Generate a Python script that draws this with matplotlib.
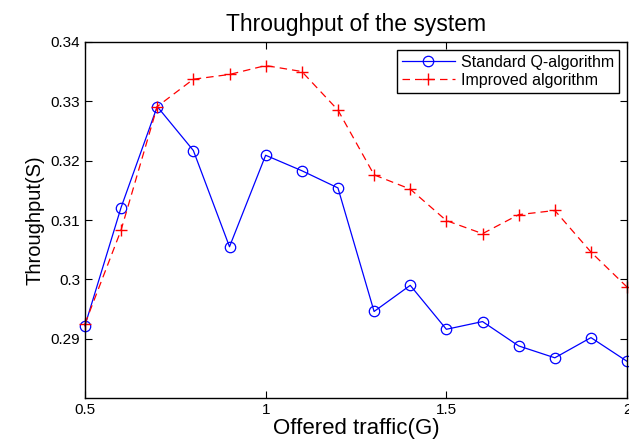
import matplotlib
matplotlib.use('Agg')
import matplotlib.pyplot as plt
import numpy as np

plt.rcParams['font.family'] = ['Liberation Sans', 'DejaVu Sans']

# offered traffic G
traffic = [0.5, 0.6, 0.7, 0.8, 0.9, 1.0, 1.1, 1.2, 1.3, 1.4, 1.5, 1.6, 1.7, 1.8, 1.9, 2.0]
standard_q = [0.2922, 0.3121, 0.3291, 0.3217, 0.3055, 0.3209, 0.3183, 0.3154,
              0.2946, 0.2990, 0.2916, 0.2929, 0.2888, 0.2868, 0.2902, 0.2862]
improved = [0.2925, 0.3083, 0.3291, 0.3337, 0.3345, 0.3360, 0.3350, 0.3285,
            0.3176, 0.3152, 0.3099, 0.3077, 0.3109, 0.3116, 0.3046, 0.2987]

x_ticks = [0.5, 1, 1.5, 2]
x_tick_labels = ['0.5', '1', '1.5', '2']
y_ticks = [0.29, 0.30, 0.31, 0.32, 0.33, 0.34]
y_tick_labels = ['0.29', '0.3', '0.31', '0.32', '0.33', '0.34']

fig = plt.figure(figsize=(6.29, 4.40), dpi=100)
ax = fig.add_axes([0.135, 0.095, 0.862, 0.81])

ax.plot(traffic, standard_q, color='#0000ff', linestyle='-', linewidth=0.9,
        marker='o', markersize=7.5, markerfacecolor='none', markeredgecolor='#0000ff',
        markeredgewidth=0.9, label='Standard Q-algorithm', clip_on=False)
ax.plot(traffic, improved, color='#ff0000', linestyle=(0, (6, 4)), linewidth=0.9,
        marker='+', markersize=9, markeredgewidth=1.0,
        label='Improved algorithm', clip_on=False)

ax.set_xlim(0.5, 2)
ax.set_ylim(0.28, 0.34)
ax.set_xticks(x_ticks)
ax.set_xticklabels(x_tick_labels)
ax.set_yticks(y_ticks)
ax.set_yticklabels(y_tick_labels)
ax.tick_params(direction='in', top=True, right=True, length=5, width=0.8, labelsize=11)
for s in ax.spines.values():
    s.set_linewidth(1.0)

ax.set_title('Throughput of the system', fontsize=16.5, pad=8)
ax.set_xlabel('Offered traffic(G)', fontsize=16, labelpad=0.5)
ax.set_ylabel('Throughput(S)', fontsize=14.5, labelpad=4)

leg = ax.legend(loc='upper right', fontsize=11.5, fancybox=False, framealpha=1,
                edgecolor='black', borderaxespad=0.5, borderpad=0.3,
                labelspacing=0.2, handlelength=3.3, handletextpad=0.4)
leg.get_frame().set_linewidth(1.0)

fig.savefig('out.png', dpi=100)
